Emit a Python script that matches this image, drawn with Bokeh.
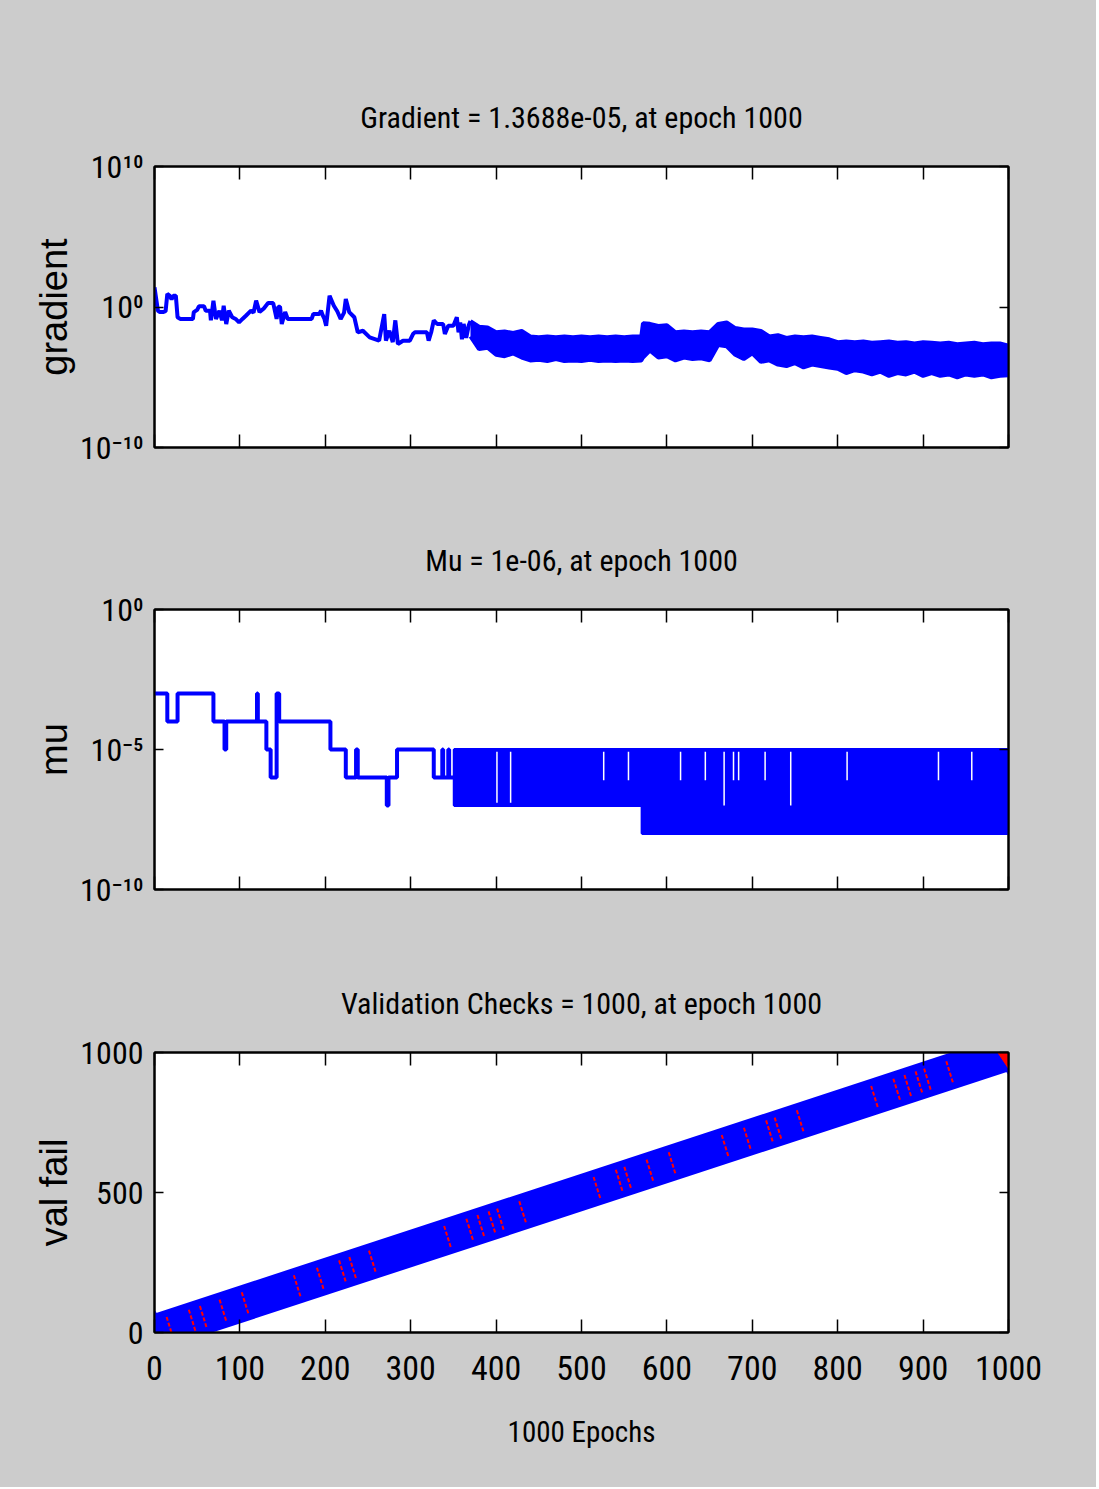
import numpy as np
from bokeh.plotting import figure
from bokeh.layouts import column
from bokeh.models import FixedTicker, LinearAxis, LogAxis, Title, Range1d
from bokeh.embed import file_html
from bokeh.resources import INLINE

# ---------------- data ----------------
# Panel 1: gradient, stored as log10(gradient)
grad_epoch = [0, 2, 4, 6, 10, 13, 15, 18, 20, 22, 25, 27, 30, 45, 46, 50, 52, 58, 60, 65,
              66, 69, 72, 76, 79, 81, 84, 87, 91, 95, 99, 103, 107, 113, 116, 119, 123, 128,
              133, 139, 143, 145, 147, 149, 153, 156, 184, 186, 193, 195, 197, 199, 201, 205,
              210, 214, 218, 222, 224, 228, 234, 238, 244, 252, 263, 269, 271, 275, 279, 282,
              285, 291, 299, 303, 305, 319, 321, 324, 327, 331, 338, 340, 344, 350, 354, 356,
              358, 360, 362, 365, 368, 370]
grad_log = [1.40, 0.57, -0.26, -0.36, -0.36, -0.30, 0.93, 0.80, 0.55, 0.80, 0.80, -0.73, -0.85,
            -0.85, -0.36, -0.20, 0.05, 0.05, -0.26, -0.26, -0.95, 0.45, -0.85, -0.26, -0.95,
            0.09, -1.21, -0.26, -0.73, -0.85, -1.09, -0.85, -0.62, -0.26, -0.40, 0.45, -0.36,
            -0.10, 0.28, 0.28, -0.85, 0.02, 0.02, -1.21, -0.36, -0.85, -0.85, -0.50, -0.50,
            -0.26, -0.60, -0.85, -1.33, 0.80, 0.09, -0.30, -0.85, -0.40, 0.57, -0.36, -0.73,
            -1.80, -1.69, -2.16, -2.40, -0.50, -2.40, -1.69, -2.50, -0.95, -2.63, -2.40, -2.40,
            -1.90, -1.80, -1.80, -2.40, -1.80, -0.95, -1.21, -1.21, -1.92, -1.33, -1.33, -0.73,
            -1.80, -1.10, -2.30, -1.20, -2.20, -1.30, -1.00]
# dense oscillating part of the gradient: upper / lower envelope (log10)
band_epoch = [370, 380, 390, 400, 410, 420, 430, 440, 450, 460, 470, 480, 490, 500, 510, 520,
              530, 540, 550, 560, 570, 572, 580, 590, 600, 610, 620, 630, 640, 650, 660, 670,
              680, 690, 700, 710, 720, 730, 740, 750, 760, 770, 780, 790, 800, 810, 820, 830,
              840, 850, 860, 870, 880, 890, 900, 910, 920, 930, 940, 950, 960, 970, 980, 990, 1000]
band_upper = [-1.00, -1.40, -1.45, -1.80, -1.75, -1.85, -1.70, -2.10, -2.15, -2.10, -2.15, -2.10,
              -2.15, -2.10, -2.15, -2.10, -2.15, -2.10, -2.15, -2.10, -2.10, -1.15, -1.20, -1.35,
              -1.30, -1.80, -1.75, -1.80, -1.75, -1.80, -1.20, -1.10, -1.50, -1.60, -1.60, -1.70,
              -2.10, -2.00, -2.20, -2.10, -2.15, -2.10, -2.20, -2.30, -2.50, -2.45, -2.50, -2.45,
              -2.55, -2.50, -2.45, -2.55, -2.50, -2.60, -2.50, -2.55, -2.60, -2.55, -2.65, -2.60,
              -2.55, -2.65, -2.60, -2.60, -2.75]
band_lower = [-2.10, -3.00, -2.90, -3.40, -3.50, -3.30, -3.60, -3.80, -3.75, -3.85, -3.70, -3.85,
              -3.80, -3.85, -3.75, -3.85, -3.80, -3.85, -3.80, -3.85, -3.80, -3.60, -3.10, -3.60,
              -3.50, -3.80, -3.60, -3.70, -3.65, -3.80, -2.70, -2.80, -3.40, -3.70, -3.30, -3.90,
              -3.80, -4.10, -4.20, -4.00, -4.30, -4.10, -4.20, -4.30, -4.40, -4.70, -4.50, -4.60,
              -4.80, -4.60, -4.90, -4.70, -4.80, -4.60, -4.90, -4.70, -4.90, -4.80, -5.00, -4.80,
              -4.90, -4.80, -5.00, -4.90, -4.86]

# Panel 2: mu (log10), step changes
mu_epoch = [0, 15, 27, 69, 82, 84, 120, 121, 131, 136, 143, 146, 206, 224, 236, 238, 272, 274,
            284, 327, 337, 338, 344, 345, 351]
mu_log = [-3, -4, -3, -4, -5, -4, -3, -4, -5, -6, -3, -4, -5, -6, -5, -6, -7, -6,
          -5, -6, -5, -6, -5, -6, -6]
# dense oscillation of mu: blocks between a high and a low value (log10)
mu_block_start = [351, 571]
mu_block_end = [571, 1000]
mu_block_high = [-5, -5]
mu_block_low = [-7, -8]
# epochs where mu stayed low for consecutive epochs (white notches) and notch depth
mu_notch_epoch = [401, 417, 526, 555, 616, 645, 667, 678, 684, 715, 745, 811, 918, 957]
mu_notch_log = [-6.9, -6.9, -6.1, -6.1, -6.1, -6.1, -7.0, -6.1, -6.1, -6.1, -7.0, -6.1, -6.1, -6.1]

# Panel 3: validation checks
val_epoch = [0, 1000]
val_fail = [0, 1000]
red_epoch = [18, 44, 57, 80, 106, 167, 194, 220, 232, 255, 343, 369, 382, 395, 405, 431, 518,
             544, 554, 580, 606, 668, 694, 720, 730, 756, 843, 869, 882, 895, 905, 931]
red_val = [18, 44, 57, 80, 106, 167, 194, 220, 232, 255, 343, 369, 382, 395, 405, 431, 518,
           544, 554, 580, 606, 668, 694, 720, 730, 756, 843, 869, 882, 895, 905, 931]
final_epoch = [1000]
final_val = [1000]

x_ticks = [0, 100, 200, 300, 400, 500, 600, 700, 800, 900, 1000]
grad_ticks = [1e-10, 1.0, 1e10]
grad_tick_labels = {1e-10: "10\u207b\u00b9\u2070", 1.0: "10\u2070", 1e10: "10\u00b9\u2070"}
mu_ticks = [1e-10, 1e-5, 1.0]
mu_tick_labels = {1e-10: "10\u207b\u00b9\u2070", 1e-5: "10\u207b\u2075", 1.0: "10\u2070"}
val_ticks = [0, 500, 1000]

titles = ["Gradient = 1.3688e-05, at epoch 1000",
          "Mu = 1e-06, at epoch 1000",
          "Validation Checks = 1000, at epoch 1000"]

# ---------------- style ----------------
BG = "#CCCCCC"
NARROW = "'Roboto Condensed', Roboto, sans-serif"
WIDE = "Liberation Sans"
BLUE = "#0000FF"


def style_axis(ax, tick_len, labels=True, size="33px"):
    ax.major_tick_in = tick_len
    ax.major_tick_out = 0
    ax.minor_tick_line_color = None
    ax.axis_line_color = "black"
    ax.axis_line_width = 2
    ax.major_tick_line_color = "black"
    ax.major_tick_line_width = 1.5
    ax.major_label_text_font = NARROW
    ax.major_label_text_font_size = size
    if labels:
        ax.major_label_text_color = "black"
    else:
        ax.major_label_text_color = None


def make_fig(title, frame_h, top, bottom, y_type, y_range, y_ticks, y_overrides, y_label,
             x_labels):
    p = figure(frame_width=854, frame_height=frame_h, x_range=Range1d(0, 1000),
               y_range=y_range, y_axis_type=y_type, output_backend="svg",
               toolbar_location=None, min_border_left=154, min_border_right=88,
               min_border_top=top, min_border_bottom=bottom,
               background_fill_color="white", border_fill_color=BG,
               outline_line_color="black", outline_line_width=2)
    p.grid.visible = False
    p.title = Title(text=title, align="center", text_font=NARROW, text_font_size="30px",
                    text_font_style="normal", text_color="black", standoff=63)
    # bottom x axis
    xb = p.below[0]
    style_axis(xb, 13, labels=x_labels, size="34px")
    xb.ticker = FixedTicker(ticks=x_ticks)
    xb.major_label_standoff = 23
    # left y axis
    yl = p.left[0]
    style_axis(yl, 9, size="32px")
    yl.ticker = FixedTicker(ticks=y_ticks)
    yl.major_label_standoff = 11
    if y_overrides:
        yl.major_label_overrides = y_overrides
    yl.axis_label = y_label
    yl.axis_label_text_font = WIDE
    yl.axis_label_text_font_size = "38px"
    yl.axis_label_text_font_style = "normal"
    yl.axis_label_text_color = "black"
    yl.axis_label_standoff = 2
    # top and right axes carry only inward ticks
    top_ax = LinearAxis(ticker=FixedTicker(ticks=x_ticks))
    style_axis(top_ax, 13, labels=False, size="10px")
    top_ax.major_label_standoff = 0
    p.add_layout(top_ax, "above")
    right_ax = (LogAxis if y_type == "log" else LinearAxis)(ticker=FixedTicker(ticks=y_ticks))
    style_axis(right_ax, 9, labels=False, size="10px")
    right_ax.major_label_standoff = 0
    p.add_layout(right_ax, "right")
    return p


# ---------------- panel 1: gradient ----------------
p1 = make_fig(titles[0], 281, 166, 52, "log", Range1d(1e-10, 1e10), grad_ticks,
              grad_tick_labels, "gradient", False)
g_y = [10.0 ** v for v in grad_log]
bu = [10.0 ** v for v in band_upper]
bl = [10.0 ** v for v in band_lower]
p1.varea(x=band_epoch, y1=bl, y2=bu, fill_color=BLUE)
p1.line(band_epoch, bu, line_color=BLUE, line_width=4)
p1.line(band_epoch, bl, line_color=BLUE, line_width=4)
p1.line(grad_epoch, g_y, line_color=BLUE, line_width=4)

# ---------------- panel 2: mu ----------------
p2 = make_fig(titles[1], 280, 110, 53, "log", Range1d(1e-10, 1.0), mu_ticks,
              mu_tick_labels, "mu", False)
p2.step(mu_epoch, [10.0 ** v for v in mu_log], mode="after", line_color=BLUE, line_width=4)
p2.quad(left=mu_block_start, right=mu_block_end,
        top=[10.0 ** v for v in mu_block_high], bottom=[10.0 ** v for v in mu_block_low],
        fill_color=BLUE, line_color=BLUE, line_width=3)
p2.segment(x0=mu_notch_epoch, y0=[10.0 ** -5.08] * len(mu_notch_epoch),
           x1=mu_notch_epoch, y1=[10.0 ** v for v in mu_notch_log],
           line_color="white", line_width=1.5)

# ---------------- panel 3: validation checks ----------------
p3 = make_fig(titles[2], 280, 110, 155, "linear", Range1d(0, 1000), val_ticks,
              None, "val fail", True)
xb3 = p3.below[0]
xb3.axis_label = "1000 Epochs"
xb3.axis_label_text_font = NARROW
xb3.axis_label_text_font_size = "29px"
xb3.axis_label_text_font_style = "normal"
xb3.axis_label_text_color = "black"
xb3.axis_label_standoff = 32
p3.line(val_epoch, val_fail, line_color=BLUE, line_width=36)
p3.scatter(val_epoch, val_fail, marker="diamond", size=44, fill_color=BLUE, line_color=BLUE)
p3.scatter(red_epoch, red_val, marker="dash", size=22, angle=-1.27, line_color="red",
           line_width=2, line_dash="4 2")
p3.scatter(final_epoch, final_val, marker="diamond", size=32, fill_color="red",
           line_color="red")

layout = column(p1, p2, p3, spacing=0, styles={"background-color": BG})
open("out.html", "w").write(file_html(layout, INLINE))
